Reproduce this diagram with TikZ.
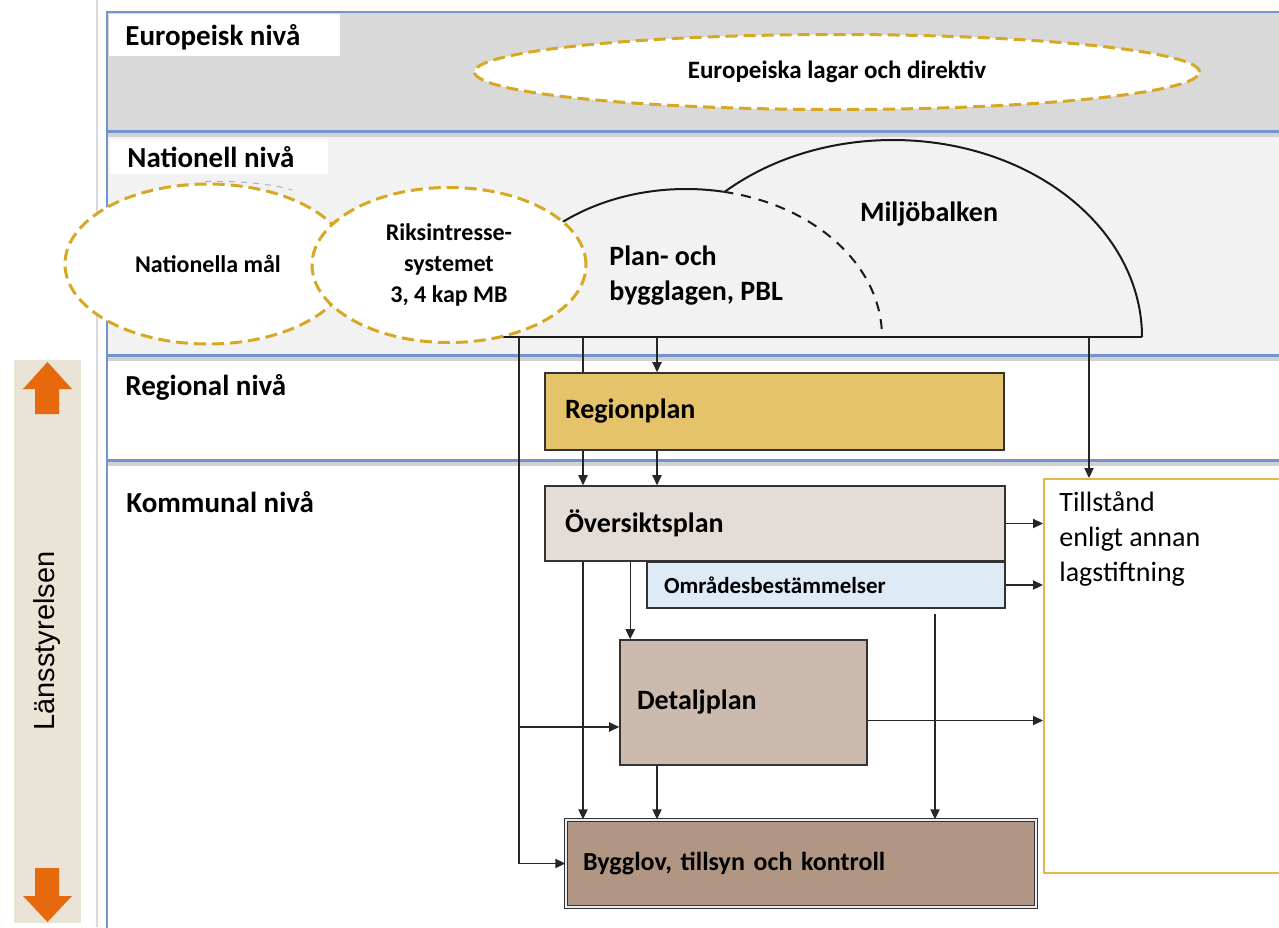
\documentclass[tikz,border=0pt]{standalone}
\usepackage{fontspec}
\setmainfont{Carlito}
\newfontfamily\arialfont{Liberation Sans}
\usetikzlibrary{positioning, arrows.meta, shapes.geometric, calc}

\definecolor{bandblue}{RGB}{114,147,207}
\definecolor{eufill}{RGB}{217,217,217}
\definecolor{natfill}{RGB}{242,242,242}
\definecolor{goldline}{RGB}{214,168,36}
\definecolor{goldbox}{RGB}{226,184,74}
\definecolor{regfill}{RGB}{229,195,106}
\definecolor{ovfill}{RGB}{228,220,214}
\definecolor{omrfill}{RGB}{222,235,246}
\definecolor{detfill}{RGB}{203,186,173}
\definecolor{byggfill}{RGB}{176,150,131}
\definecolor{sidefill}{RGB}{233,228,214}
\definecolor{lsorange}{RGB}{230,106,13}

\tikzset{
  band/.style={draw=bandblue, line width=1pt},
  bandshadow/.style={draw=black!18, line width=2pt},
  lvl/.style={font=\fontsize{14.5}{17}\selectfont\bfseries, anchor=west, inner sep=0pt},
  goal/.style={ellipse, draw=goldline, fill=white, line width=1.5pt,
    dash pattern=on 6pt off 3pt, inner sep=0pt, align=center,
    font=\fontsize{12}{15.5}\selectfont\bfseries},
  lawline/.style={draw=black!90, line width=1pt},
  lawtext/.style={font=\fontsize{14}{17.5}\selectfont\bfseries, inner sep=0pt},
  planbox/.style={draw=black!80, line width=0.8pt, align=left,
    font=\fontsize{14}{17}\selectfont\bfseries},
  conn/.style={draw=black!85, line width=0.7pt},
  arr/.style={conn, -{Triangle[length=5pt,width=4.6pt]}},
}

\begin{document}
\begin{tikzpicture}[x=0.5pt, y=-0.5pt]
   \useasboundingbox (0,0) rectangle (1279,927);
   % Levels
   \draw[black!15, line width=1pt] (97,0) -- (97,927);
   \filldraw[band, fill=eufill] (107,12) rectangle (1290,131);
   \filldraw[band, fill=natfill] (107,133) rectangle (1290,355);
   \filldraw[band, fill=white] (107,357) rectangle (1290,460);
   \filldraw[band, fill=white] (107,462) rectangle (1290,940);
   \draw[bandshadow] (108,135) -- (1290,135);
   \draw[bandshadow] (108,359) -- (1290,359);
   \draw[bandshadow] (108,464) -- (1290,464);
   \fill[white] (109,14) rectangle (340,56);
   \fill[white] (110,139) rectangle (328,174);
   \fill[white] (108,361) rectangle (375,405);
   \node[lvl] (eu) at (125,37) {Europeisk nivå};
   \node[lvl] (nat) at (127,157) {Nationell nivå};
   \node[lvl] (reg) at (125,387) {Regional nivå};
   \node[lvl] (kom) at (126,502) {Kommunal nivå};

   % Länsstyrelsen
   \fill[sidefill] (14,360) rectangle (81,923);
   \fill[lsorange] (47.5,362) -- (72,389) -- (59,389) -- (59,414) -- (35,414) -- (35,389) -- (23,389) -- cycle;
   \fill[lsorange] (35,868) -- (59,868) -- (59,896) -- (72,896) -- (47.5,922) -- (23,896) -- (35,896) -- cycle;
   \node[rotate=90, font=\arialfont\fontsize{14.5}{17}\selectfont] (lans) at (47,641) {Länsstyrelsen};

   % European and national law
   \node[goal, minimum width=362.5pt, minimum height=37.5pt,
         font=\fontsize{12.5}{15}\selectfont\bfseries] (eulag) at (837,72) {Europeiska lagar och direktiv};
   \fill[natfill] (644,337) arc[start angle=180, end angle=0, x radius=124.5pt, y radius=98.5pt] -- cycle;
   \draw[lawline] (893,337) ++(133:124.5pt and 98.5pt) arc[start angle=133, end angle=0, x radius=124.5pt, y radius=98.5pt];
   \fill[natfill] (490,337) arc[start angle=180, end angle=0, x radius=98pt, y radius=74pt] -- cycle;
   \draw[lawline] (490,337) arc[start angle=180, end angle=79, x radius=98pt, y radius=74pt];
   \draw[lawline, dash pattern=on 5pt off 4pt] (686,337) ++(79:98pt and 74pt) arc[start angle=79, end angle=0, x radius=98pt, y radius=74pt];
   \draw[lawline] (490,337) -- (1142,337);
   \node[lawtext, anchor=west, align=left] (pbl) at (609,276) {Plan- och\\bygglagen, PBL};
   \node[lawtext] (miljo) at (929,214) {Miljöbalken};
   \draw[bandblue!70, dashed, line width=0.5pt] (205,181.5) .. controls (240,180.5) and (272,184) .. (292,190);
   \node[goal, minimum width=143pt, minimum height=80pt] (natmal) at (208,264) {Nationella mål};
   \node[goal, minimum width=137pt, minimum height=77.5pt] (riks) at (449,265) {Riksintresse-\\systemet\\3, 4 kap MB};

   % Plans
   \node[planbox, fill=regfill, minimum width=229.5pt, minimum height=38.5pt,
         inner xsep=10pt, text width=209.5pt] (regionplan) at (774.5,411.5) {Regionplan};
   \node[planbox, fill=ovfill, minimum width=230pt, minimum height=37.5pt,
         inner xsep=10pt, text width=210pt] (oversikt) at (775,523.5) {Översiktsplan};
   \node[planbox, fill=omrfill, minimum width=179pt, minimum height=23pt,
         inner xsep=8.5pt, text width=162pt, font=\fontsize{11.5}{14}\selectfont\bfseries] (omrade) at (826,585) {Områdesbestämmelser};
   \node[planbox, fill=detfill, minimum width=123.5pt, minimum height=62.5pt,
         inner xsep=8.5pt, text width=106.5pt] (detalj) at (743.5,702.5) {Detaljplan};
   \node[planbox, fill=byggfill, double=omrfill!80!white, double distance=0.8pt, line width=0.7pt,
         minimum width=235pt, minimum height=43.5pt, inner xsep=8.5pt, text width=218pt,
         font=\fontsize{13}{16}\selectfont\bfseries] (bygglov) at (801,863.5) {Bygglov, tillsyn och kontroll};
   \node[draw=goldbox, line width=1pt, fill=white, minimum width=123pt, minimum height=197pt] (tillstand) at (1167,676) {};
   \node[font=\fontsize{14}{17.5}\selectfont, align=left, inner sep=0pt,
         below right=6.5pt and 8pt of tillstand.north west] (tilltext) {Tillstånd\\enligt annan\\lagstiftning};

   % Connections
   \coordinate (baseA) at (519,337);
   \coordinate (baseB) at (583,337);
   \coordinate (baseC) at (657,337);
   \coordinate (baseD) at (1089,337);
   \coordinate (omrEnd) at (935,614);
   \coordinate (toDetalj) at ($(detalj.west)+(0,24.5)$);
   \coordinate (detOut) at ($(detalj.east)+(0,18)$);
   \draw[conn] (baseB) -- (baseB |- regionplan.north);
   \draw[arr] (baseC) -- (baseC |- regionplan.north);
   \draw[arr] (baseD) -- (baseD |- tillstand.north);
   \draw[arr] (baseA) |- (bygglov.west);
   \draw[arr] (baseA |- toDetalj) -- (toDetalj);
   \draw[arr] (regionplan.south -| baseB) -- (oversikt.north -| baseB);
   \draw[arr] (regionplan.south -| baseC) -- (oversikt.north -| baseC);
   \draw[arr] (oversikt.south -| baseB) -- (bygglov.north -| baseB);
   \draw[arr] ([xshift=5.5pt]detalj.north west |- oversikt.south) -- ([xshift=5.5pt]detalj.north west);
   \draw[arr] (detalj.south -| baseC) -- (bygglov.north -| baseC);
   \draw[arr] (omrEnd) -- (omrEnd |- bygglov.north);
   \draw[arr] (oversikt.east) -- (oversikt.east -| tillstand.west);
   \draw[arr] (omrade.east) -- (omrade.east -| tillstand.west);
   \draw[arr] (detOut) -- (detOut -| tillstand.west);
\end{tikzpicture}
\end{document}
